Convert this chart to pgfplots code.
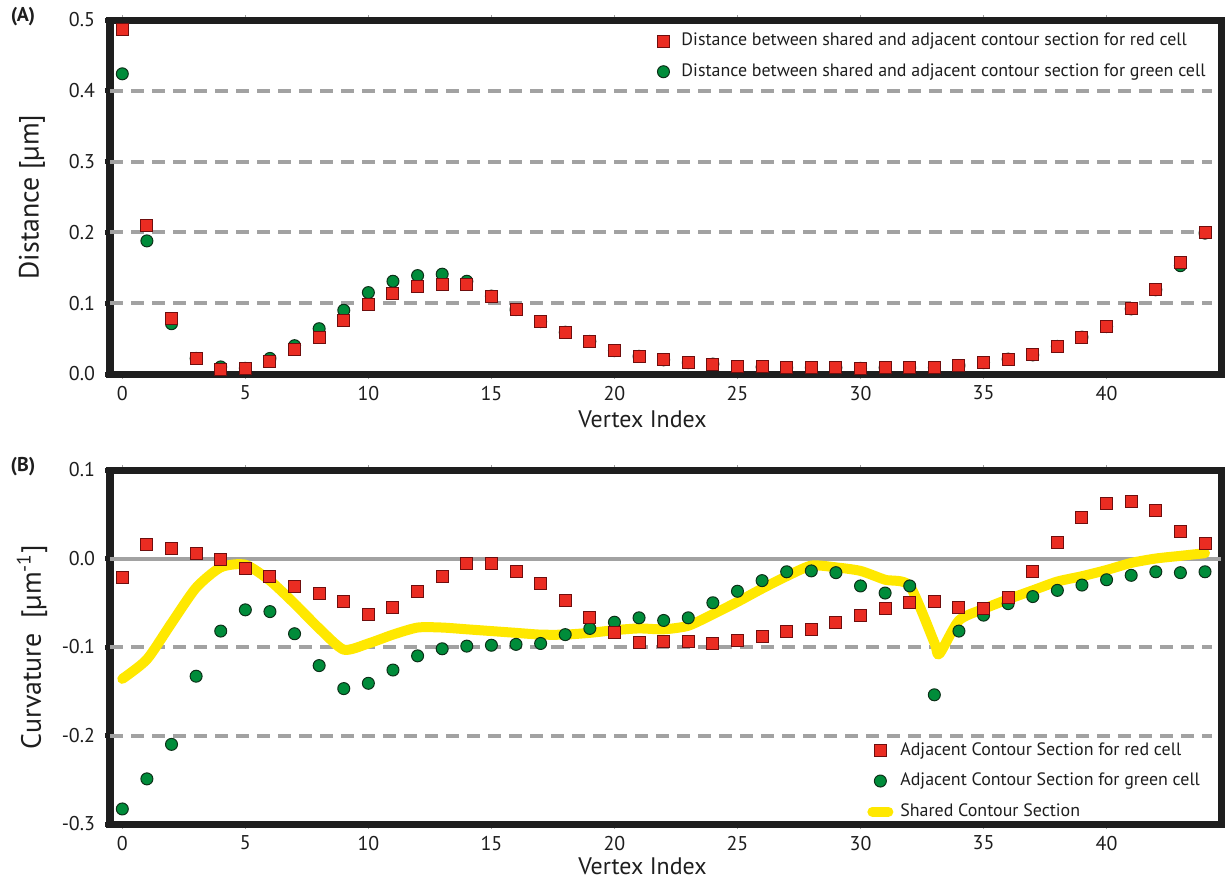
\documentclass[border=0pt]{standalone}
\usepackage{pgfplots}
\pgfplotsset{compat=1.18}
\usepackage{pgfplotstable}
\usepackage{fontspec}
\setmainfont{PT Sans}
\definecolor{redfill}{RGB}{234,44,34}
\definecolor{reddraw}{RGB}{110,14,14}
\definecolor{greenfill}{RGB}{0,140,58}
\definecolor{greendraw}{RGB}{12,48,24}
\definecolor{gridgray}{RGB}{162,162,162}
\definecolor{framecol}{RGB}{30,30,30}
\definecolor{shared}{RGB}{255,232,0}

\pgfplotstableread{
x red green
0 0.486 0.424
1 0.210 0.188
2 0.078 0.071
3 0.022 0.022
4 0.006 0.010
5 0.008 0.008
6 0.018 0.022
7 0.034 0.040
8 0.052 0.064
9 0.076 0.090
10 0.098 0.115
11 0.114 0.131
12 0.124 0.139
13 0.126 0.141
14 0.126 0.131
15 0.110 0.110
16 0.091 0.091
17 0.074 0.074
18 0.059 0.059
19 0.046 0.046
20 0.033 0.033
21 0.025 0.025
22 0.020 0.020
23 0.016 0.016
24 0.014 0.014
25 0.010 0.010
26 0.010 0.010
27 0.009 0.009
28 0.009 0.009
29 0.009 0.009
30 0.008 0.008
31 0.009 0.009
32 0.009 0.009
33 0.009 0.009
34 0.012 0.012
35 0.016 0.016
36 0.021 0.021
37 0.027 0.027
38 0.039 0.039
39 0.052 0.052
40 0.067 0.067
41 0.092 0.092
42 0.119 0.119
43 0.157 0.153
44 0.200 0.199
}\distdata

\pgfplotstableread{
x red green
0 -0.022 -0.283
1 0.016 -0.249
2 0.011 -0.210
3 0.006 -0.133
4 -0.001 -0.082
5 -0.011 -0.058
6 -0.020 -0.060
7 -0.032 -0.085
8 -0.039 -0.121
9 -0.049 -0.147
10 -0.063 -0.141
11 -0.055 -0.126
12 -0.037 -0.110
13 -0.020 -0.102
14 -0.006 -0.099
15 -0.006 -0.098
16 -0.015 -0.097
17 -0.028 -0.096
18 -0.048 -0.086
19 -0.067 -0.079
20 -0.084 -0.072
21 -0.095 -0.067
22 -0.094 -0.070
23 -0.094 -0.067
24 -0.096 -0.050
25 -0.093 -0.037
26 -0.088 -0.025
27 -0.083 -0.015
28 -0.080 -0.014
29 -0.072 -0.016
30 -0.064 -0.031
31 -0.056 -0.039
32 -0.050 -0.031
33 -0.049 -0.154
34 -0.055 -0.082
35 -0.056 -0.064
36 -0.044 -0.051
37 -0.015 -0.043
38 0.018 -0.036
39 0.046 -0.030
40 0.062 -0.024
41 0.064 -0.019
42 0.054 -0.015
43 0.030 -0.016
44 0.017 -0.015
}\curvdata

\pgfplotstableread{
x y
0 -0.136
1 -0.114
2 -0.073
3 -0.033
4 -0.010
5 -0.007
6 -0.025
7 -0.051
8 -0.079
9 -0.103
10 -0.096
11 -0.086
12 -0.078
13 -0.078
14 -0.080
15 -0.082
16 -0.084
17 -0.086
18 -0.086
19 -0.084
20 -0.081
21 -0.079
22 -0.080
23 -0.076
24 -0.063
25 -0.049
26 -0.034
27 -0.020
28 -0.008
29 -0.010
30 -0.014
31 -0.024
32 -0.031
33 -0.095
33.2 -0.108
34 -0.070
35 -0.057
36 -0.046
37 -0.036
38 -0.026
39 -0.020
40 -0.013
41 -0.005
42 0.000
43 0.003
44 0.006
}\shareddata

\tikzset{gline/.style={gridgray, line width=2bp, dash pattern=on 6.5bp off 4bp}}

\pgfplotsset{
  panel/.style={
    scale only axis, width=555.5bp, height=177bp,
    xmin=-0.5, xmax=44.65,
    xtick={0,5,...,40},
    axis line style={line width=3.5bp, framecol},
    tick align=outside,
    major tick length=2.5bp,
    ytick style={line width=2.5bp, framecol},
    xtick style={line width=0.8bp, gridgray},
    tick label style={font=\fontsize{10}{12}\selectfont, text=framecol},
    /pgf/number format/assume math mode=true,
    yticklabel style={/pgf/number format/fixed, /pgf/number format/fixed zerofill, /pgf/number format/precision=1, xshift=-1.5bp},
    xlabel={Vertex Index},
    every axis x label/.style={at={(axis description cs:0.5,0)}, xshift=-11.5bp, yshift=-22.5bp, anchor=center, font=\fontsize{12}{14}\selectfont, text=framecol},
    every axis y label/.style={at={(axis description cs:0,0.5)}, xshift=-39bp, rotate=90, anchor=center, font=\fontsize{14}{16}\selectfont, text=framecol},
    legend style={draw=none, fill=none, font=\fontsize{9}{11}\selectfont, row sep=3.5bp, inner sep=0pt, text=framecol},
    legend cell align=left,
    reverse legend,
    clip=false,
  },
  redmark/.style={only marks, mark=square*, mark size=3bp, mark options={fill=redfill, draw=reddraw, line width=0.5bp}},
  greenmark/.style={only marks, mark=*, mark size=3bp, mark options={fill=greenfill, draw=greendraw, line width=0.5bp}},
  sharedleg/.style={legend image code/.code={\draw[shared, line width=5bp, line cap=round] (0.3cm-4bp,0cm) -- (0.3cm+4bp,0cm);}},
}

\begin{document}
\begin{tikzpicture}
\path[use as bounding box] (0,0) rectangle (612.5bp,-440bp);

\begin{axis}[panel, at={(55bp,-187bp)}, anchor=south west,
  ymin=0, ymax=0.5, ytick={0,0.1,...,0.5},
  ylabel={Distance [µm]},
  legend style={at={(axis description cs:0.99,0.975)}, anchor=north east, column sep=4bp},
]
\draw[gline] (axis cs:-0.5,0.1) -- (axis cs:44.3,0.1);
\draw[gline] (axis cs:-0.5,0.2) -- (axis cs:44.3,0.2);
\draw[gline] (axis cs:-0.5,0.3) -- (axis cs:44.3,0.3);
\draw[gline] (axis cs:-0.5,0.4) -- (axis cs:44.3,0.4);
\addplot[greenmark] table[x=x, y=green] {\distdata};
\addlegendentry{Distance between shared and adjacent contour section for green cell}
\addplot[redmark] table[x=x, y=red] {\distdata};
\addlegendentry{Distance between shared and adjacent contour section for red cell}
\end{axis}

\begin{axis}[panel, at={(55bp,-412bp)}, anchor=south west,
  ymin=-0.3, ymax=0.1, ytick={-0.3,-0.2,...,0.1},
  ylabel={Curvature\ \ [µm\textsuperscript{-1}]},
  every axis x label/.append style={yshift=1.5bp},
  legend style={at={(axis description cs:0.985,0.0)}, anchor=south east, column sep=1.5bp},
]
\draw[gline] (axis cs:-0.5,-0.1) -- (axis cs:44.3,-0.1);
\draw[gline] (axis cs:-0.5,-0.2) -- (axis cs:44.3,-0.2);
\draw[gridgray, line width=2bp] (axis cs:-0.5,0) -- (axis cs:44.65,0);
\addplot[shared, line width=5bp, smooth, tension=0.4, line cap=round, line join=round, sharedleg]
  table[x=x, y=y] {\shareddata};
\addlegendentry{Shared Contour Section}
\addplot[greenmark] table[x=x, y=green] {\curvdata};
\addlegendentry{Adjacent Contour Section for green cell}
\addplot[redmark] table[x=x, y=red] {\curvdata};
\addlegendentry{Adjacent Contour Section for red cell}
\end{axis}

\node[font=\bfseries\fontsize{10}{12}\selectfont, text=framecol] at (11.5bp,-8.5bp) {(A)};
\node[font=\bfseries\fontsize{10}{12}\selectfont, text=framecol] at (11.5bp,-233.5bp) {(B)};
\end{tikzpicture}
\end{document}
